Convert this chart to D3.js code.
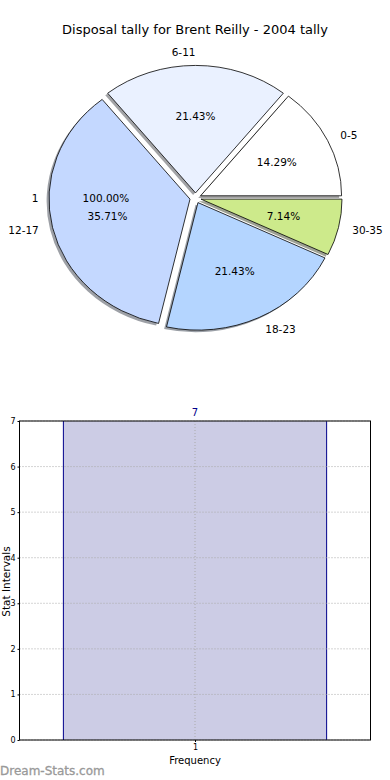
<!DOCTYPE html>
<html>
<head>
<meta charset="utf-8">
<script src="https://cdn.jsdelivr.net/npm/d3@7"></script>
<style>
html,body{margin:0;padding:0;background:#fff;}
svg{display:block;font-family:"DejaVu Sans",sans-serif;}
</style>
</head>
<body>
<svg id="c" width="390" height="780"></svg>
<script>
// ---- data ----
const title = "Disposal tally for Brent Reilly - 2004 tally";
const pieLabels = ["0-5", "6-11", "12-17", "18-23", "30-35"];
const pieValues = [2, 3, 5, 3, 1];
const pieColors = ["#ffffff", "#eaf1ff", "#c4d8ff", "#b4d5ff", "#cdea8b"];
const extraLabel = "1";
const extraPct = "100.00%";

const barCategories = [1];
const barValues = [7];
const yTicks = [0, 1, 2, 3, 4, 5, 6, 7];
const xLabel = "Frequency";
const yLabel = "Stat Intervals";
const watermark = "Dream-Stats.com";

const svg = d3.select("#c");

// title
svg.append("text").attr("x", 195).attr("y", 34).attr("text-anchor", "middle")
  .attr("font-size", 13).attr("fill", "#000").text(title);

// ---- pie ----
const cx = 195.5, cy = 198, rx = 141, ry = 127.5, explode = 0.04;
const pie = d3.pie().sort(null).value(d => d).startAngle(Math.PI / 2).endAngle(Math.PI / 2 - 2 * Math.PI);
const arcs = pie(pieValues);
const arc = d3.arc().innerRadius(0).outerRadius(1);
const total = d3.sum(pieValues);

function offset(a, dist) { // d3 angle -> screen offset on ellipse
  return [Math.sin(a) * dist * rx, -Math.cos(a) * dist * ry];
}

const gPie = svg.append("g");
// shadows
arcs.forEach((a, i) => {
  const m = (a.startAngle + a.endAngle) / 2;
  const o = offset(m, explode);
  const c = d3.rgb(pieColors[i]);
  gPie.append("path")
    .attr("d", arc(a))
    .attr("transform", `translate(${cx + o[0] - 0.017 * rx},${cy + o[1] + 0.017 * ry}) scale(${rx},${ry})`)
    .attr("fill", d3.rgb(c.r * 0.3, c.g * 0.3, c.b * 0.3))
    .attr("fill-opacity", 0.5);
});
arcs.forEach((a, i) => {
  const m = (a.startAngle + a.endAngle) / 2;
  const o = offset(m, explode);
  gPie.append("path")
    .attr("d", arc(a))
    .attr("transform", `translate(${cx + o[0]},${cy + o[1]}) scale(${rx},${ry})`)
    .attr("fill", pieColors[i])
    .attr("stroke", "#000")
    .attr("stroke-width", 0.8)
    .attr("vector-effect", "non-scaling-stroke")
    .attr("stroke-linejoin", "round");
});
// labels
arcs.forEach((a, i) => {
  const m = (a.startAngle + a.endAngle) / 2;
  const o = offset(m, explode);
  const l = offset(m, 1.1);
  const p = offset(m, 0.6);
  const lx = cx + o[0] + l[0];
  const ly = cy + o[1] + l[1];
  gPie.append("text").attr("x", lx).attr("y", ly).attr("dy", "0.35em")
    .attr("text-anchor", Math.sin(m) > 1e-9 ? "start" : "end")
    .attr("font-size", 10.5).text(pieLabels[i]);
  gPie.append("text").attr("x", cx + o[0] + p[0]).attr("y", cy + o[1] + p[1]).attr("dy", "0.35em")
    .attr("text-anchor", "middle").attr("font-size", 10.5)
    .text((pieValues[i] / total * 100).toFixed(2) + "%");
});
// leftover single-value labels
{
  const m = -Math.PI / 2;
  const l = offset(m, 1.1), p = offset(m, 0.6);
  gPie.append("text").attr("x", cx + l[0] - 2).attr("y", cy + l[1]).attr("dy", "0.35em")
    .attr("text-anchor", "end").attr("font-size", 10.5).text(extraLabel);
  gPie.append("text").attr("x", cx + p[0] - 5).attr("y", cy + p[1]).attr("dy", "0.35em")
    .attr("text-anchor", "middle").attr("font-size", 10.5).text(extraPct);
}

// ---- bar chart ----
const L = 19.5, R = 370.5, T = 421, B = 740;
const x = d3.scaleLinear().domain([0.5, 1.5]).range([L, R]);
const y = d3.scaleLinear().domain([0, 7]).range([B, T]);
const gBar = svg.append("g");

const barW = 0.75;
barCategories.forEach((c, i) => {
  gBar.append("rect")
    .attr("x", x(c - barW / 2)).attr("y", y(barValues[i]))
    .attr("width", x(c + barW / 2) - x(c - barW / 2))
    .attr("height", y(0) - y(barValues[i]))
    .attr("fill", "#ccccE5");
  gBar.append("line").attr("x1", x(c - barW / 2)).attr("x2", x(c - barW / 2))
    .attr("y1", y(0)).attr("y2", y(barValues[i])).attr("stroke", "#00008b").attr("stroke-width", 1);
  gBar.append("line").attr("x1", x(c + barW / 2)).attr("x2", x(c + barW / 2))
    .attr("y1", y(0)).attr("y2", y(barValues[i])).attr("stroke", "#00008b").attr("stroke-width", 1);
  gBar.append("text").attr("x", x(c)).attr("y", y(barValues[i]) - 5)
    .attr("text-anchor", "middle").attr("font-size", 10).attr("fill", "#00008b").text(barValues[i]);
});

// grid
yTicks.forEach(t => {
  gBar.append("line").attr("x1", L).attr("x2", R).attr("y1", y(t)).attr("y2", y(t))
    .attr("stroke", "#aaaaaa").attr("stroke-width", 1).attr("stroke-dasharray", "1,2");
});
barCategories.forEach(c => {
  gBar.append("line").attr("x1", x(c)).attr("x2", x(c)).attr("y1", T).attr("y2", B)
    .attr("stroke", "#aaaaaa").attr("stroke-width", 1).attr("stroke-dasharray", "1,2");
});

// axes
const yAxis = d3.axisLeft(y).tickValues(yTicks).tickSize(2).tickPadding(2).tickFormat(d3.format("d"));
const gy = gBar.append("g").attr("transform", `translate(${L},0)`).call(yAxis);
gy.select(".domain").remove();
gy.selectAll("text").attr("font-size", 8).attr("font-family", "DejaVu Sans");
const xAxis = d3.axisBottom(x).tickValues(barCategories).tickSize(2).tickPadding(2).tickFormat(d3.format("d"));
const gx = gBar.append("g").attr("transform", `translate(0,${B})`).call(xAxis);
gx.select(".domain").remove();
gx.selectAll("text").attr("font-size", 8).attr("font-family", "DejaVu Sans");

gBar.append("rect").attr("x", L).attr("y", T).attr("width", R - L).attr("height", B - T)
  .attr("fill", "none").attr("stroke", "#000").attr("stroke-width", 1);

gBar.append("text").attr("x", x(1)).attr("y", 764).attr("text-anchor", "middle")
  .attr("font-size", 10).text(xLabel);
gBar.append("text").attr("transform", `translate(9.5,${(T + B) / 2 + 1}) rotate(-90)`)
  .attr("text-anchor", "middle").attr("font-size", 10.5).text(yLabel);

svg.append("text").attr("x", 0).attr("y", 775).attr("font-size", 12)
  .attr("font-weight", "normal").attr("fill", "#999999").attr("stroke", "#999999").attr("stroke-width", 0.3)
  .text(watermark);
</script>
</body>
</html>
